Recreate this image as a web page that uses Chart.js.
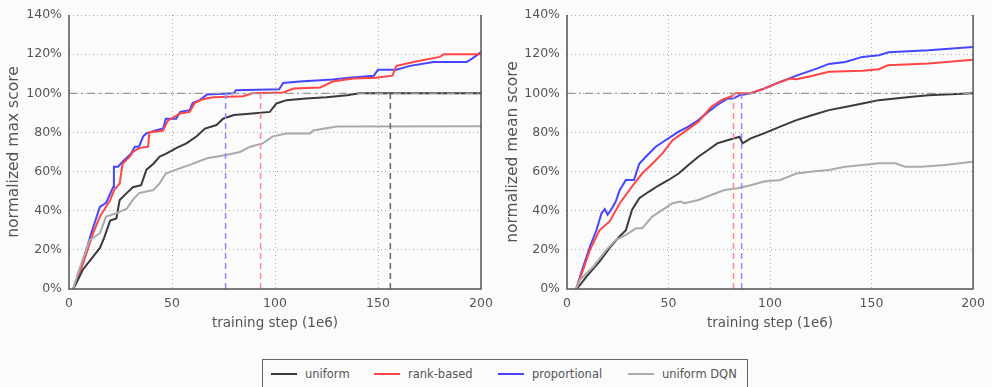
<!DOCTYPE html>
<html>
<head>
<meta charset="utf-8">
<script src="https://cdn.jsdelivr.net/npm/chart.js@4.4.0/dist/chart.umd.min.js"></script>
<style>
  body { margin: 0; background: #fcfbfc; font-family: "DejaVu Sans", sans-serif; }
  #wrap { position: relative; width: 992px; height: 387px; overflow: hidden; }
  .box { position: absolute; top: 0; height: 340px; }
  #legend { position: absolute; left: 262px; top: 359px; width: 486px; height: 40px;
            border: 1.5px solid #666; box-sizing: border-box; }
  .item { position: absolute; top: 7px; font-size: 11.5px; color: #555; white-space: nowrap; }
  .item i { display: inline-block; width: 26px; height: 2px; vertical-align: middle; margin-right: 8px; margin-top: -2px; }
</style>
</head>
<body>
<div id="wrap">
  <div class="box" style="left:0;width:500px"><canvas id="maxChart"></canvas></div>
  <div class="box" style="left:500px;width:492px"><canvas id="meanChart"></canvas></div>
  <div id="legend"></div>
</div>
<script>
// Series names and colours
const seriesNames = ['uniform', 'rank-based', 'proportional', 'uniform DQN'];
const seriesColors = ['#3a3a3a', '#ff4545', '#4545ff', '#aaaaaa'];
const xTicks = [0, 50, 100, 150, 200];
const yTicks = [0, 20, 40, 60, 80, 100, 120, 140];

// normalized max score  [training step, %]
const maxUniform = [[2,0],[3.6,3],[6.8,10],[11.7,16.6],[15,21],[17,26],[20,35],[23,36],[24.6,45.5],[28,49],[31,52],[35,53],[37.6,61],[41,64],[44,67.6],[47,69],[52,72],[57,74.4],[62,78],[66,82],[71.6,83.8],[74.8,87],[80,88.9],[89,89.7],[97.5,90.5],[100.7,94.8],[105.6,96.5],[115,97.3],[125,98],[135,99],[141,100],[200,100]];
const maxRank = [[2,0],[6.8,13],[11.7,28.5],[15,37],[18,42],[20,45.5],[22,50.6],[24.6,54],[26,64],[29.5,67.6],[31,70],[34,72],[38.4,72.7],[39,80],[45.7,81],[48,86],[54,89.7],[58.6,90.5],[61,95],[65,97],[70,98],[84.5,98.5],[89,100],[104,100.4],[109,102.4],[122,103],[128,106],[138,107.5],[149,108],[157,109],[159,114],[169,116.4],[180,118.6],[182,120],[200,120]];
const maxProp = [[2,0],[6,11.5],[10.8,28.5],[15,42],[18,44],[21.4,52],[21.8,62.5],[23.8,62.5],[26,65],[30,69],[32,72.7],[34,72.7],[36,78],[37.6,79.5],[42,81],[45.7,82],[47,87],[52,87],[54,90.5],[58.6,91.4],[60,95],[63.5,96.5],[67,99.4],[80,100],[81,101.6],[102,102],[104,105.3],[112,106],[128,107],[136,108],[148,109],[150,112],[159,112],[165.5,114],[177,116],[193,116],[196,118],[200,121]];
const maxDqn = [[2,0],[5,10],[10,25],[15,28.5],[18,37],[23,38.7],[28,41],[31,45.5],[34,49],[41,50.6],[44,54],[47,59],[52,61],[58.6,63.4],[67,66.8],[76.4,68.5],[83,70],[88,72.7],[94,74.4],[99,78],[105.6,79.5],[117,79.5],[118.5,81],[130,83],[200,83.2]];
const maxMarks = [76, 93, 156]; // proportional, rank-based, uniform reach 100%

// normalized mean score  [training step, %]
const meanUniform = [[4.8,0],[9.7,6.5],[16,14],[21,21],[26,27],[29,30],[32,40.4],[35.6,46.4],[40.4,49.8],[45.3,53],[50,55.7],[55,59],[59.8,63.4],[64.7,67.6],[69.5,71],[74,74.4],[79,76],[82.5,77],[85,77.8],[86.5,74.4],[90.5,77],[97,79.5],[105,83],[113,86.3],[121,88.9],[129,91.4],[137,93],[145.5,94.8],[153.6,96.5],[161.7,97.3],[170,98.2],[178,99],[200,100]];
const meanRank = [[4.5,0],[8,10],[11.3,20],[16,30],[21,34.5],[26,43.8],[32,52.3],[37,59],[42,64],[47,69.3],[52,76],[58,80.4],[64.7,85.5],[71,93],[76,96.5],[81,98.5],[83,100],[90.5,100],[97,102.4],[105,105.8],[110,107.5],[113,107.2],[121,109],[129,111],[145.5,111.5],[153.6,112.3],[158,114.3],[178,115.2],[200,117.2]];
const meanProp = [[4.5,0],[8,11.5],[11.3,21.7],[14.5,30],[17,38.7],[18.6,40.8],[20,37.9],[22.6,42],[24,44.7],[26,50.6],[29,55.7],[33,55.7],[35.6,64],[38.8,67.6],[43.7,72.7],[48.5,76],[55,80.4],[59.8,83],[64.7,86.3],[69.5,90.5],[74,94],[79,97.3],[82,97.3],[85,99],[90.5,100],[97,102.4],[105,105.8],[113,109],[123,112.6],[129,115],[137,116],[145.5,118.6],[153.6,119.4],[158.4,121],[178,122],[200,123.7]];
const meanDqn = [[4.5,0],[6.5,4.8],[13,11.5],[19.4,20],[24,25],[29,27.7],[34,31],[37,31],[42,37],[47,40.4],[52,43.8],[56,44.7],[58,43.8],[64.7,45.5],[71,48],[77.6,50.6],[84,51.5],[90.5,53],[97,54.9],[105,55.7],[113,59],[121,60],[129,60.8],[137,62.5],[145.5,63.4],[153.6,64.2],[161.7,64.2],[166.6,62.5],[174.6,62.5],[186,63.4],[200,65]];
const meanMarks = [82, 86]; // rank-based, proportional reach 100%

const toXY = arr => arr.map(p => ({ x: p[0], y: p[1] }));

function curve(data, color) {
    return { data: toXY(data), borderColor: color, borderWidth: 2, pointRadius: 0, tension: 0, fill: false };
}

function marker(x, color) {
    return { data: [{ x: x, y: 0 }, { x: x, y: 100 }], borderColor: color, borderWidth: 1.5,
             borderDash: [6, 4], pointRadius: 0, fill: false };
}

function refLine() {
    return { data: [{ x: 0, y: 100 }, { x: 200, y: 100 }], borderColor: '#999', borderWidth: 1.3,
             borderDash: [8, 4, 2, 4], pointRadius: 0, fill: false };
}

// left, bottom and right spines
const framePlugin = {
    id: 'frame',
    afterDatasetsDraw(chart) {
        const a = chart.chartArea, ctx = chart.ctx;
        ctx.save();
        ctx.strokeStyle = '#555';
        ctx.lineWidth = 1.5;
        ctx.beginPath();
        ctx.moveTo(a.left, a.top);
        ctx.lineTo(a.left, a.bottom);
        ctx.lineTo(a.right, a.bottom);
        ctx.lineTo(a.right, a.top);
        ctx.stroke();
        ctx.restore();
    }
};

function makeChart(id, yTitle, yWidth, titlePad, padRight, datasets) {
    const tickFont = { family: 'DejaVu Sans', size: 12.5 };
    return new Chart(document.getElementById(id), {
        type: 'line',
        data: { datasets: datasets },
        options: {
            responsive: true,
            maintainAspectRatio: false,
            animation: false,
            layout: { padding: { top: 15, right: padRight, left: 0, bottom: 0 } },
            plugins: { legend: { display: false }, tooltip: { enabled: false } },
            scales: {
                x: {
                    type: 'linear', min: 0, max: 200,
                    afterBuildTicks: s => { s.ticks = xTicks.map(v => ({ value: v })); },
                    afterFit: s => { s.height = 51; },
                    grid: { color: '#aaa', lineWidth: 1, drawTicks: false },
                    border: { display: false, dash: [1, 3] },
                    ticks: { color: '#555', font: tickFont, padding: 7, maxRotation: 0 },
                    title: { display: true, text: 'training step (1e6)', color: '#555',
                             font: { family: 'DejaVu Sans', size: 13.5 }, padding: { top: 2, bottom: 8 } }
                },
                y: {
                    min: 0, max: 140,
                    afterBuildTicks: s => { s.ticks = yTicks.map(v => ({ value: v })); },
                    afterFit: s => { s.width = yWidth; },
                    grid: { color: '#aaa', lineWidth: 1, drawTicks: false },
                    border: { display: false, dash: [1, 3] },
                    ticks: { color: '#555', font: tickFont, padding: 7, callback: v => v + '%' },
                    title: { display: true, text: yTitle, color: '#555',
                             font: { family: 'DejaVu Sans', size: 15.5 }, padding: { top: titlePad, bottom: 4 } }
                }
            }
        },
        plugins: [framePlugin]
    });
}

makeChart('maxChart', 'normalized max score', 69, 5, 19, [
    refLine(),
    marker(maxMarks[0], '#8c8cff'),
    marker(maxMarks[1], '#ff8c8c'),
    marker(maxMarks[2], '#666'),
    curve(maxDqn, seriesColors[3]),
    curve(maxUniform, seriesColors[0]),
    curve(maxRank, seriesColors[1]),
    curve(maxProp, seriesColors[2])
]);

makeChart('meanChart', 'normalized mean score', 67, 4, 13, [
    refLine(),
    marker(meanMarks[0], '#ff8c8c'),
    marker(meanMarks[1], '#8c8cff'),
    curve(meanDqn, seriesColors[3]),
    curve(meanUniform, seriesColors[0]),
    curve(meanRank, seriesColors[1]),
    curve(meanProp, seriesColors[2])
]);

// shared legend
const legendX = [8, 111, 235, 365];
const legend = document.getElementById('legend');
seriesNames.forEach((name, i) => {
    const el = document.createElement('div');
    el.className = 'item';
    el.style.left = legendX[i] + 'px';
    el.innerHTML = '<i style="background:' + seriesColors[i] + '"></i>' + name;
    legend.appendChild(el);
});
</script>
</body>
</html>
